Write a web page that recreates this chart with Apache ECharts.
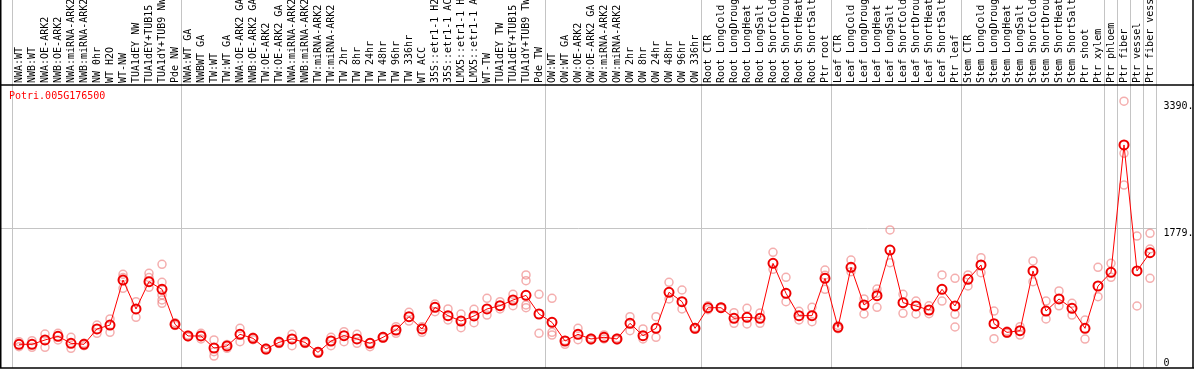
<!DOCTYPE html>
<html>
<head>
<meta charset="utf-8">
<script src="https://cdn.jsdelivr.net/npm/echarts@6/dist/echarts.min.js"></script>
<style>
  html, body { margin: 0; padding: 0; background: #fff; }
  #chart { width: 1194px; height: 370px; }
</style>
</head>
<body>
<div id="chart"></div>
<script>
// sample labels, as printed (cut to 14 chars in the source)
const categories = [
  'NWA:WT', 'NWB:WT', 'NWA:OE-ARK2', 'NWB:OE-ARK2', 'NWA:miRNA-ARK2', 'NWB:miRNA-ARK2',
  'NW 0hr', 'WT H2O', 'WT-NW', 'TUA1dEY NW', 'TUA1dEY+TUB15', 'TUA1dY+TUB9 NW', 'Pde NW',
  'NWA:WT GA', 'NWBWT GA', 'TW:WT', 'TW:WT GA', 'NWA:OE-ARK2 GA', 'NWB:OE-ARK2 GA',
  'TW:OE-ARK2', 'TW:OE-ARK2 GA', 'NWA:miRNA-ARK2', 'NWB:miRNA-ARK2', 'TW:miRNA-ARK2',
  'TW:miRNA-ARK2', 'TW 2hr', 'TW 8hr', 'TW 24hr', 'TW 48hr', 'TW 96hr', 'TW 336hr',
  'WT ACC', '35S::etr1-1 H2', '35S::etr1-1 AC', 'LMX5::etr1-1 H', 'LMX5::etr1-1 A',
  'WT-TW', 'TUA1dEY TW', 'TUA1dEY+TUB15', 'TUA1dY+TUB9 TW', 'Pde TW',
  'OW:WT', 'OW:WT GA', 'OW:OE-ARK2', 'OW:OE-ARK2 GA', 'OW:miRNA-ARK2', 'OW:miRNA-ARK2',
  'OW 2hr', 'OW 8hr', 'OW 24hr', 'OW 48hr', 'OW 96hr', 'OW 336hr',
  'Root CTR', 'Root LongCold', 'Root LongDroug', 'Root LongHeat', 'Root LongSalt',
  'Root ShortCold', 'Root ShortDrou', 'Root ShortHeat', 'Root ShortSalt', 'Ptr root',
  'Leaf CTR', 'Leaf LongCold', 'Leaf LongDroug', 'Leaf LongHeat', 'Leaf LongSalt',
  'Leaf ShortCold', 'Leaf ShortDrou', 'Leaf ShortHeat', 'Leaf ShortSalt', 'Ptr leaf',
  'Stem CTR', 'Stem LongCold', 'Stem LongDroug', 'Stem LongHeat', 'Stem LongSalt',
  'Stem ShortCold', 'Stem ShortDrou', 'Stem ShortHeat', 'Stem ShortSalt', 'Ptr shoot',
  'Ptr xylem', 'Ptr phloem', 'Ptr fiber', 'Ptr vessel', 'Ptr fiber vess'
];

// mean expression per sample
const means = [
  301, 301, 356, 403, 314, 301, 496, 546, 1118, 750, 1097, 1000, 555,
  407, 407, 254, 280, 428, 377, 241, 326, 369, 326, 199, 343, 411, 369, 314, 390,
  483, 652, 496, 771, 665, 597, 661, 750, 792, 864, 923, 686,
  580, 343, 428, 369, 390, 369, 568, 411, 504, 962, 843, 504,
  766, 766, 631, 644, 631, 1330, 949, 665, 665, 1140,
  517, 1279, 801, 919, 1499, 830, 788, 737, 1000, 788,
  1127, 1309, 563, 453, 474, 1233, 724, 877, 758, 504,
  1042, 1216, 2834, 1233, 1465
];

// single replicates per sample
const replicates = [
  [334, 271], [347, 263], [432, 263], [441, 356], [390, 250], [314, 284],
  [546, 441], [623, 453], [1190, 1013, 1150], [843, 644], [1203, 1025, 1150],
  [1318, 1089, 928, 864, 822], [576, 540],
  [420, 395], [441, 370], [356, 207, 152], [300, 250], [504, 334], [390, 360],
  [255, 230], [340, 310], [428, 283], [340, 310], [210, 190], [390, 283],
  [462, 334], [428, 314], [320, 271], [400, 380], [525, 441], [708, 597],
  [525, 453], [813, 715], [750, 610], [686, 512], [746, 576], [886, 673],
  [843, 750], [936, 792], [1182, 1110, 801, 766], [936, 441],
  [886, 453, 419], [301, 350], [504, 360], [380, 355], [420, 370], [380, 355],
  [652, 474], [496, 370], [652, 390], [1089, 877], [991, 750], [515, 495],
  [790, 740], [775, 760], [703, 568], [758, 560], [700, 568], [1470, 1254],
  [1152, 843], [720, 610], [771, 588], [1245, 1000, 1180],
  [540, 500], [1372, 1224], [877, 686], [1004, 771, 950], [1754, 1338],
  [936, 695], [851, 686], [790, 690], [1182, 851], [1140, 682, 521],
  [1182, 1042], [1402, 1211], [724, 372], [470, 440], [525, 419],
  [1360, 1097], [851, 623], [979, 790], [822, 673], [610, 368],
  [1279, 906], [1330, 1152], [3390, 2728, 2325], [1677, 788], [1712, 1512, 1140]
];

// where a new sample group starts (grey separators)
const groupStarts = [0, 13, 41, 53, 63, 73, 84, 85, 86, 87, 88];
const yTicks = [0, 1779, 3390];
const yTickText = { 0: '0', 1779: '1779.', 3390: '3390.' };

const mono = 'DejaVu Sans Mono';
const repPoints = [];
replicates.forEach((vals, i) => vals.forEach(v => repPoints.push([i, v])));

const chart = echarts.init(document.getElementById('chart'));

chart.setOption({
  animation: false,
  backgroundColor: '#fff',
  title: {
    text: 'Potri.005G176500',
    left: 9,
    top: 91,
    padding: 0,
    textStyle: { color: '#ff0000', fontSize: 10, fontFamily: mono, fontWeight: 'normal' }
  },
  grid: { left: 12.5, right: 37.5, top: 85, bottom: 2, containLabel: false, outerBoundsMode: 'none' },
  xAxis: {
    type: 'category',
    position: 'top',
    data: categories,
    boundaryGap: true,
    axisLine: { show: false },
    axisTick: { show: false },
    splitLine: { show: false },
    axisLabel: {
      interval: 0,
      rotate: 90,
      margin: 2,
      color: '#000',
      fontSize: 10,
      fontFamily: mono
    }
  },
  yAxis: {
    type: 'value',
    position: 'right',
    min: 0,
    max: 3596,
    axisLine: { show: false },
    axisTick: { show: false },
    splitLine: { show: false },
    axisLabel: {
      customValues: yTicks,
      margin: 7,
      color: '#000',
      fontSize: 10,
      fontFamily: mono,
      verticalAlign: 'middle',
      formatter: v => v === 0 ? '{z|0}' : '{t|' + yTickText[v] + '}',
      rich: {
        t: { padding: [10, 0, 0, 0], fontSize: 10, fontFamily: mono, color: '#000' },
        z: { padding: [0, 0, 10, 0], fontSize: 10, fontFamily: mono, color: '#000' }
      }
    }
  },
  series: [
    {
      name: 'replicates',
      type: 'scatter',
      data: repPoints,
      symbol: 'circle',
      symbolSize: 8,
      z: 3,
      itemStyle: { color: 'rgba(0,0,0,0)', borderColor: 'rgba(236,120,120,0.75)', borderWidth: 1.5 }
    },
    {
      name: 'mean',
      type: 'line',
      data: means,
      symbol: 'circle',
      symbolSize: 9,
      showAllSymbol: true,
      z: 4,
      lineStyle: { color: '#ff0000', width: 1 },
      itemStyle: { color: 'rgba(0,0,0,0)', borderColor: '#ee0000', borderWidth: 2 }
    }
  ]
});

// frame, group separators and the 1779 guide line, placed from the axes
const px = i => chart.convertToPixel({ xAxisIndex: 0 }, i);
const py = v => chart.convertToPixel({ yAxisIndex: 0 }, v);
const step = px(1) - px(0);
const plotTop = py(3596), plotBottom = py(0);
const plotRight = px(categories.length - 1) + step / 2;
const W = 1194;

const grey = { stroke: '#c4c4c4', lineWidth: 1 };
const black = { stroke: '#000', lineWidth: 1.5 };
const elements = [];
groupStarts.forEach(b => {
  const x = Math.round(px(0) + (b - 0.5) * step - 1) + 0.5;
  elements.push({ type: 'line', silent: true, z: -10, shape: { x1: x, y1: 0, x2: x, y2: plotBottom }, style: grey });
});
const yg = Math.round(py(1779)) + 0.5;
elements.push({ type: 'line', silent: true, z: -10, shape: { x1: 0, y1: yg, x2: plotRight, y2: yg }, style: grey });
elements.push({ type: 'line', silent: true, z: 10, shape: { x1: 0, y1: plotTop, x2: W, y2: plotTop }, style: black });
elements.push({ type: 'line', silent: true, z: 10, shape: { x1: 0, y1: plotBottom, x2: W, y2: plotBottom }, style: black });
elements.push({ type: 'line', silent: true, z: 10, shape: { x1: 0.75, y1: 0, x2: 0.75, y2: plotBottom }, style: black });
elements.push({ type: 'line', silent: true, z: 10, shape: { x1: W - 1, y1: 0, x2: W - 1, y2: plotBottom }, style: black });

chart.setOption({ graphic: { elements: elements } });
</script>
</body>
</html>
